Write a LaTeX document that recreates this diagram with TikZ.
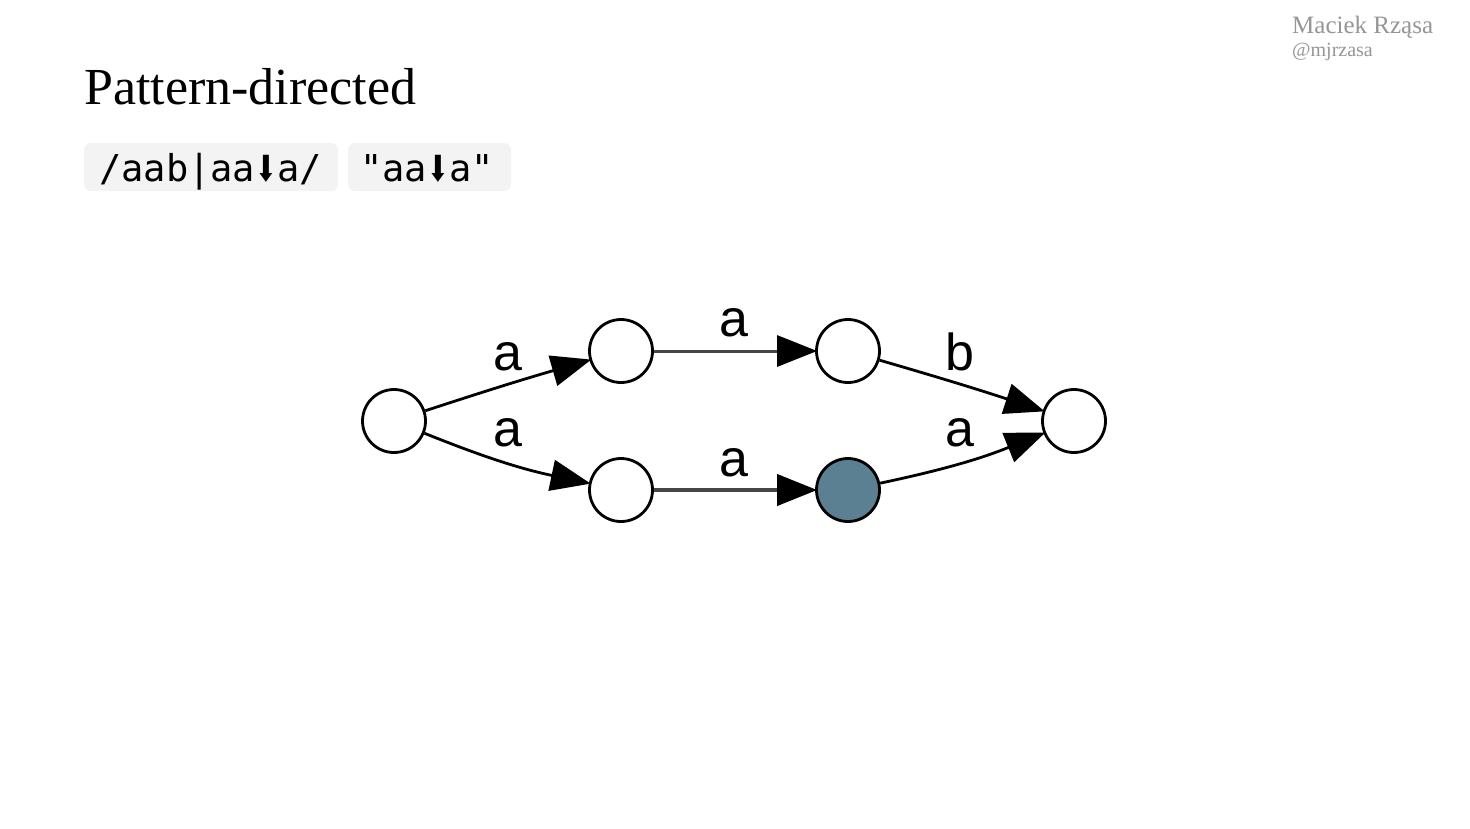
\documentclass[tikz,border=0pt]{standalone}
\usepackage{fontspec}
\usepackage{graphicx}
\setmainfont{Liberation Serif}
\newfontfamily\lsans{Liberation Sans}
\newfontfamily\dmono{DejaVu Sans Mono}
\newfontfamily\dsans{DejaVu Sans}
\usetikzlibrary{arrows.meta}
\definecolor{codebg}{RGB}{243,243,243}
\definecolor{acc}{RGB}{91,128,146}
\definecolor{authc}{RGB}{150,150,150}
\definecolor{edgeg}{RGB}{70,70,70}
\newcommand{\darr}{\makebox[0.6em]{\scalebox{0.72}[1]{\dsans\fontsize{36}{36}\selectfont\char"2B07}}}
\begin{document}
\begin{tikzpicture}[x=1pt,y=-1pt,
  state/.style={circle,draw=black,line width=2.8pt,fill=white,minimum size=63pt,inner sep=0pt},
  fin/.style={state,fill=acc},
  edge/.style={line width=2.8pt,-{Triangle[length=40pt,width=31pt,color=black]},shorten >=-2pt},
  lab/.style={font=\lsans\fontsize{52}{52}\selectfont,anchor=base,inner sep=0pt},
  codebox/.style={fill=codebg,rounded corners=7pt,draw=none},
  code/.style={font=\dmono\fontsize{37}{37}\selectfont,anchor=base west,inner sep=0pt}]
\useasboundingbox (0,0) rectangle (1470,828);
\fill[white] (0,0) rectangle (1470,828);
% author
\node[anchor=base west,inner sep=0pt,text=authc,font=\fontsize{25}{25}\selectfont] (auth) at (1292,33) {Maciek Rząsa};
\node[anchor=base west,inner sep=0pt,text=authc,font=\fontsize{20}{20}\selectfont] (handle) at (1292,56) {@mjrzasa};
% title
\node[anchor=base west,inner sep=0pt,font=\fontsize{52}{52}\selectfont] (title) at (84,104) {Pattern-directed};
% code boxes
\fill[codebox] (84,143) rectangle (338,191);
\fill[codebox] (348,143) rectangle (511,191);
\node[code] (c1) at (99,181) {/aab|aa\darr a/};
\node[code] (c2) at (360,181) {"aa\darr a"};
% states
\node[state] (s0) at (394,421) {};
\node[state] (t1) at (621,351) {};
\node[state] (t2) at (848,351) {};
\node[state] (f) at (1074,421) {};
\node[state] (b1) at (621,490) {};
\node[fin] (b2) at (848,490) {};
% edges
\draw[edge] (s0) to[bend left=1] (t1);
\draw[edge,draw=edgeg,line width=3pt] (t1) -- (t2);
\draw[edge] (t2) to[bend left=1] (f);
\draw[edge] (s0) to[bend right=5] (b1);
\draw[edge,draw=edgeg,line width=4pt] (b1) -- (b2);
\draw[edge] (b2) to[bend right=5] (f);
% labels
\node[lab] (l1) at (508,370) {a};
\node[lab] (l2) at (734,336) {a};
\node[lab] (l3) at (960,370) {b};
\node[lab] (l4) at (508,446) {a};
\node[lab] (l5) at (734,476) {a};
\node[lab] (l6) at (960,446) {a};
\end{tikzpicture}
\end{document}
